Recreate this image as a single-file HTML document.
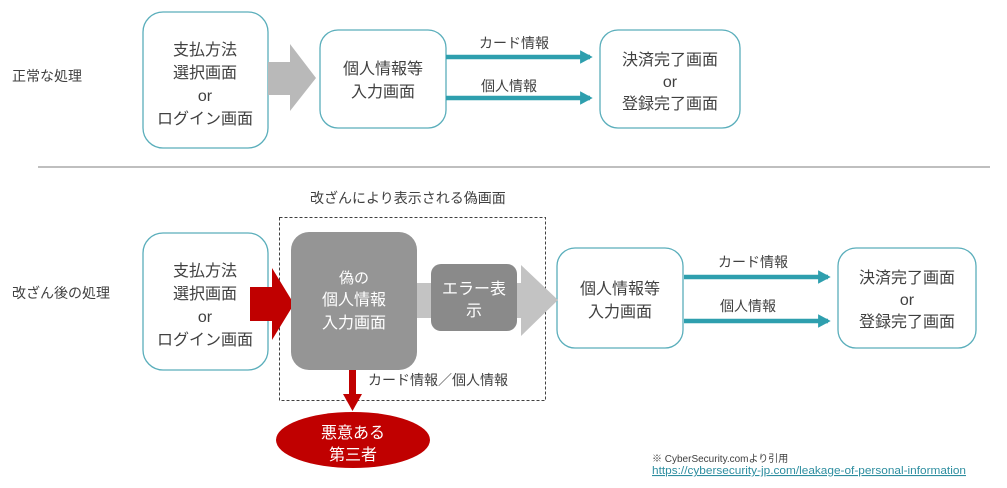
<!DOCTYPE html>
<html><head><meta charset="utf-8"><style>
html,body{margin:0;padding:0;background:#fff;}
svg text{font-family:"Liberation Sans","Noto Sans CJK JP",sans-serif;}
</style></head><body>
<svg width="1007" height="483" viewBox="0 0 1007 483" xmlns="http://www.w3.org/2000/svg">
<defs>
<marker id="ta" markerWidth="4" markerHeight="4" refX="2.2" refY="2" orient="auto" markerUnits="strokeWidth"><path d="M0,0.5 L2.8,2 L0,3.5 Z" fill="#2e9fae"/></marker>
</defs>
<g fill="#fff" stroke="#5aaebb" stroke-width="1.3">
<rect x="143" y="12" width="125" height="136" rx="20"/>
<rect x="320" y="30" width="126" height="98" rx="18"/>
<rect x="600" y="30" width="140" height="98" rx="18"/>
<rect x="143" y="233" width="125" height="137" rx="20"/>
<rect x="557" y="248" width="126" height="100" rx="18"/>
<rect x="838" y="248" width="138" height="100" rx="18"/>
</g>
<path d="M268,62 H290 V44 L316,78 L290,111 V95 H268 Z" fill="#b9b9b9"/>
<g stroke="#2e9fae" stroke-width="4.5" fill="none">
<line x1="446" y1="57" x2="590" y2="57" marker-end="url(#ta)"/>
<line x1="446" y1="98" x2="590" y2="98" marker-end="url(#ta)"/>
<line x1="684" y1="277" x2="828" y2="277" marker-end="url(#ta)"/>
<line x1="684" y1="321" x2="828" y2="321" marker-end="url(#ta)"/>
</g>
<line x1="38" y1="167" x2="990" y2="167" stroke="#7f7f7f" stroke-width="1"/>
<rect x="279.5" y="217.5" width="266" height="183" fill="none" stroke="#404040" stroke-width="1" stroke-dasharray="3,2"/>
<path d="M410,283 H521 V265 L558,300 L521,336 V318 H410 Z" fill="#c3c3c3"/>
<path d="M250,287 H272 V268 L294,304 L272,340 V321 H250 Z" fill="#c00000"/>
<rect x="291" y="232" width="126" height="138" rx="18" fill="#959595"/>
<rect x="431" y="264" width="86" height="67" rx="10" fill="#8a8a8a"/>
<rect x="349" y="370" width="7" height="26" fill="#c00000"/>
<path d="M343,394 H362 L352.5,411 Z" fill="#c00000"/>
<ellipse cx="353" cy="440" rx="77" ry="28" fill="#c00000"/>
<g fill="#404040" font-size="16" text-anchor="middle">
<text x="205" y="55">支払方法</text>
<text x="205" y="78">選択画面</text>
<text x="205" y="101">or</text>
<text x="205" y="124">ログイン画面</text>
<text x="383" y="74">個人情報等</text>
<text x="383" y="97">入力画面</text>
<text x="670" y="65">決済完了画面</text>
<text x="670" y="87">or</text>
<text x="670" y="109">登録完了画面</text>
<text x="205" y="276">支払方法</text>
<text x="205" y="299">選択画面</text>
<text x="205" y="322">or</text>
<text x="205" y="345">ログイン画面</text>
<text x="620" y="294">個人情報等</text>
<text x="620" y="317">入力画面</text>
<text x="907" y="283">決済完了画面</text>
<text x="907" y="305">or</text>
<text x="907" y="327">登録完了画面</text>
</g>
<g fill="#404040" font-size="14">
<text x="12" y="81">正常な処理</text>
<text x="12" y="298">改ざん後の処理</text>
<text x="310" y="203">改ざんにより表示される偽画面</text>
<text x="479" y="48">カード情報</text>
<text x="481" y="91">個人情報</text>
<text x="718" y="267">カード情報</text>
<text x="720" y="311">個人情報</text>
<text x="368" y="385">カード情報／個人情報</text>
</g>
<g fill="#fff" text-anchor="middle">
<text x="354" y="283" font-size="15">偽の</text>
<text x="354" y="305" font-size="16">個人情報</text>
<text x="354" y="328" font-size="16">入力画面</text>
<text x="474" y="294" font-size="16">エラー表</text>
<text x="474" y="316" font-size="16">示</text>
<text x="353" y="438" font-size="16">悪意ある</text>
<text x="353" y="460" font-size="16">第三者</text>
</g>
<text x="652" y="462" font-size="10" fill="#404040">※ CyberSecurity.comより引用</text>
<text x="652" y="474" font-size="11" fill="#2e8ea0" text-decoration="underline" textLength="314" lengthAdjust="spacingAndGlyphs">https://cybersecurity-jp.com/leakage-of-personal-information</text>
</svg>
</body></html>
